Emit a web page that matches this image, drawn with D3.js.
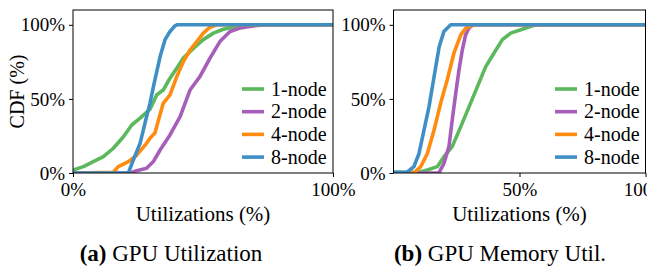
<!DOCTYPE html>
<html lang="en">
<head>
<meta charset="UTF-8">
<title>GPU utilization CDF</title>
<script src="https://d3js.org/d3.v7.min.js"></script>
<style>
    body { margin: 0; background: #fff; }
    svg text { font-family: "Liberation Serif", "DejaVu Serif", serif; fill: #000; }
</style>
</head>
<body>
<div id="chart"></div>
<script>
    // series names and colours
    const seriesNames = ["1-node", "2-node", "4-node", "8-node"];
    const seriesColors = ["#5cb85c", "#a65fb8", "#ff8c0f", "#3f8fc6"];

    // (a) GPU utilization: [utilization %, CDF %]
    const gpu1 = [[0,2],[4,4.3],[7.8,7.7],[11.7,11],[15.5,16.7],[19.4,24.5],[22.6,32.4],[25.8,37],[29.6,43],[32.2,52.7],[34.7,56],[37.3,64],[39.9,70.7],[42.4,77.5],[46.3,84],[50.1,90],[54,94.4],[57.8,97],[63,98.9],[68,99.7],[75,100],[100,100]];
    const gpu2 = [[0,0],[22,0],[24.5,1.6],[28.3,3.2],[30.9,7.7],[33.5,15.5],[37.3,25.7],[41.2,38],[45,56],[48.8,65],[52.7,77.5],[56.5,88.7],[60.4,95.5],[64.2,97.8],[69.3,99.3],[75,100],[100,100]];
    const gpu4 = [[0,0],[15.5,0.5],[17.4,4.3],[21.3,7.7],[24.5,12],[28.3,20],[29.6,23.4],[31.5,27],[32.2,31.3],[34.7,47],[37.3,52.7],[39.9,65],[42.4,75],[45,83],[48.2,90],[50.1,94.4],[52.7,98.4],[55.3,100],[100,100]];
    const gpu8 = [[0,0],[21.3,0],[23.2,8.8],[25.8,20],[28.3,38],[29.6,47],[30.9,58],[31.5,62.8],[33.5,78.6],[35.4,90],[37.3,95.5],[39.2,99.3],[40,100],[100,100]];

    // (b) GPU memory utilization
    const mem1 = [[0,0.5],[10,0.5],[13.4,2],[17.4,4.3],[20,11],[23.3,17.8],[26.7,31.3],[30,44.8],[33.3,58.3],[36.6,71.8],[39.9,81],[43.2,90],[46.5,94.4],[51.1,97],[55.4,99.5],[60,100],[100,100]];
    const mem2 = [[0,0],[18,0],[20,6.5],[22,17.8],[23.3,35.8],[24.7,53.8],[26,69.6],[27.3,83],[28.6,93.2],[30,98],[31.6,100],[100,100]];
    const mem4 = [[0,0],[8.1,0],[10.8,4.3],[13.4,13],[16.1,29],[18.7,47],[21.3,62.8],[24,81],[26.7,93.2],[28.7,97.8],[31.6,100],[100,100]];
    const mem8 = [[0,0.5],[5.4,0.5],[8.1,4.3],[10.1,13],[12.1,29],[14.1,44.8],[16.1,65],[18.1,85],[20,95.5],[22.7,100],[100,100]];

    const yTicks = [0, 50, 100];
    const xTicksA = [0, 100];
    const xTicksB = [50, 100];

    const svg = d3.select("#chart").append("svg")
        .attr("width", 647)
        .attr("height", 266);

    const panels = [
        { id: "a", left: 73, right: 333, series: [gpu1, gpu2, gpu4, gpu8], xTicks: xTicksA,
          legendX: 242, captionX: 171, captionBold: "(a)", caption: " GPU Utilization", ylabel: true },
        { id: "b", left: 393.5, right: 645.5, series: [mem1, mem2, mem4, mem8], xTicks: xTicksB,
          legendX: 555, captionX: 500, captionBold: "(b)", caption: " GPU Memory Util.", ylabel: false }
    ];

    const plotTop = 10, plotBottom = 173;

    panels.forEach(p => {
        const x = d3.scaleLinear().domain([0, 100]).range([p.left, p.right]);
        const y = d3.scaleLinear().domain([0, 110]).range([plotBottom, plotTop]);

        svg.append("clipPath").attr("id", "clip-" + p.id)
            .append("rect")
            .attr("x", p.left).attr("y", plotTop)
            .attr("width", p.right - p.left).attr("height", plotBottom - plotTop);

        const line = d3.line().x(d => x(d[0])).y(d => y(d[1]));

        svg.append("g").attr("clip-path", `url(#clip-${p.id})`)
            .selectAll("path")
            .data(p.series)
            .join("path")
            .attr("fill", "none")
            .attr("stroke", (d, i) => seriesColors[i])
            .attr("stroke-width", 3.6)
            .attr("stroke-linejoin", "round")
            .attr("d", line);

        // axes
        const xAxis = svg.append("g")
            .attr("transform", `translate(0,${plotBottom})`)
            .call(d3.axisBottom(x).tickValues(p.xTicks).tickFormat(d => d + "%").tickSize(4).tickPadding(3));
        const yAxis = svg.append("g")
            .attr("transform", `translate(${p.left},0)`)
            .call(d3.axisLeft(y).tickValues(yTicks).tickFormat(d => d + "%").tickSize(4).tickPadding(4));
        [xAxis, yAxis].forEach(a => {
            a.select(".domain").remove();
            a.selectAll("text").style("font-size", "19px");
            a.selectAll("line").attr("stroke", "#000").attr("stroke-width", 1);
        });
        xAxis.selectAll("text").attr("dy", "0.85em");

        // frame
        svg.append("rect")
            .attr("x", p.left).attr("y", plotTop)
            .attr("width", p.right - p.left).attr("height", plotBottom - plotTop)
            .attr("fill", "none").attr("stroke", "#000").attr("stroke-width", 1);

        // legend
        const legend = svg.append("g");
        seriesNames.forEach((name, i) => {
            const ly = 89 + i * 22.7;
            legend.append("line")
                .attr("x1", p.legendX).attr("x2", p.legendX + 22)
                .attr("y1", ly).attr("y2", ly)
                .attr("stroke", seriesColors[i]).attr("stroke-width", 3.6);
            legend.append("text")
                .attr("x", p.legendX + 29).attr("y", ly)
                .attr("dy", "0.33em")
                .style("font-size", "20px")
                .text(name);
        });

        // x label
        svg.append("text")
            .attr("x", (p.left + p.right) / 2).attr("y", 221)
            .attr("text-anchor", "middle")
            .style("font-size", "21px")
            .text("Utilizations (%)");

        // caption
        const cap = svg.append("text")
            .attr("x", p.captionX).attr("y", 261)
            .attr("text-anchor", "middle")
            .style("font-size", "23px");
        cap.append("tspan").attr("font-weight", "bold").text(p.captionBold);
        cap.append("tspan").text(p.caption);

        if (p.ylabel) {
            svg.append("text")
                .attr("transform", `translate(24,${(plotTop + plotBottom) / 2}) rotate(-90)`)
                .attr("text-anchor", "middle")
                .style("font-size", "20px")
                .text("CDF (%)");
        }
    });
</script>
</body>
</html>
